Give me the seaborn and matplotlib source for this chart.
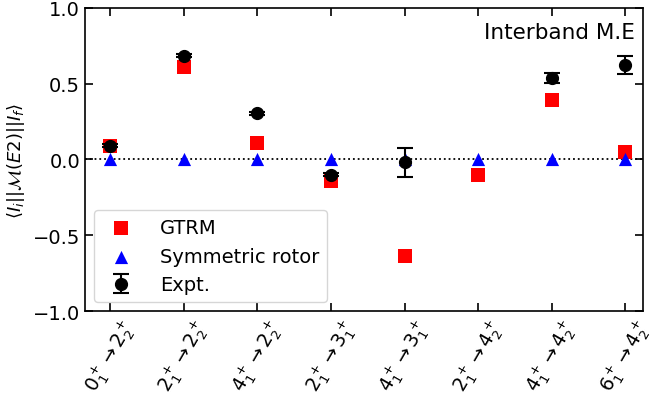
import matplotlib
matplotlib.use("Agg")
import matplotlib.pyplot as plt
import seaborn as sns
import numpy as np
import pandas as pd

labels = [r"$0^+_1\rightarrow2^+_2$", r"$2^+_1\rightarrow2^+_2$", r"$4^+_1\rightarrow2^+_2$",
          r"$2^+_1\rightarrow3^+_1$", r"$4^+_1\rightarrow3^+_1$", r"$2^+_1\rightarrow4^+_2$",
          r"$4^+_1\rightarrow4^+_2$", r"$6^+_1\rightarrow4^+_2$"]
gtrm = [0.09, 0.608, 0.109, -0.14, -0.639, -0.10, 0.395, 0.052]
rotor = [0.0, 0.0, 0.0, 0.0, 0.0, 0.0, 0.0, 0.0]
expt_idx = [0, 1, 2, 3, 4, 6, 7]
expt = [0.089, 0.683, 0.305, -0.10, -0.019, 0.535, 0.624]
expt_err = [0.01, 0.01, 0.01, 0.01, 0.095, 0.033, 0.06]

sns.set_style("ticks")
plt.rcParams['font.family'] = ['DejaVu Sans']
plt.rcParams['mathtext.fontset'] = 'dejavusans'
for k in ['text.color', 'axes.labelcolor', 'xtick.color', 'ytick.color', 'axes.edgecolor']:
    plt.rcParams[k] = 'black'

fig = plt.figure(figsize=(6.49, 4.06), dpi=100)
ax = fig.add_axes([0.131, 0.2315, 0.86, 0.7465])

x = np.arange(len(labels))
df_g = pd.DataFrame({"x": x, "y": gtrm})
df_r = pd.DataFrame({"x": x, "y": rotor})

ax.axhline(0, color='black', ls=':', lw=1.3, zorder=1)
sns.scatterplot(data=df_g, x="x", y="y", marker='s', s=110, color='red', linewidth=0,
                ax=ax, label='GTRM', zorder=3)
sns.scatterplot(data=df_r, x="x", y="y", marker='^', s=90, color='blue', linewidth=0,
                ax=ax, label='Symmetric rotor', zorder=4)
ax.errorbar(expt_idx, expt, yerr=expt_err, fmt='o', color='black', ms=8.5,
            capsize=6, elinewidth=1.5, capthick=1.5, label='Expt.', zorder=5)

ax.set_xlim(-0.34, 7.24)
ax.set_ylim(-1.0, 1.0)
ax.set_yticks([-1.0, -0.5, 0.0, 0.5, 1.0])
ax.set_xticks(x)
ax.set_xticklabels(labels, rotation=60, fontsize=13.5)
ax.tick_params(axis='y', labelsize=14)
ax.tick_params(direction='in', top=True, right=True, length=6, width=1.2, colors='black')
ax.set_xlabel("")
ax.set_ylabel(r"$\langle I_i||\mathcal{M}(E2)||I_f\rangle$", fontsize=13, color='black')
for s in ax.spines.values():
    s.set_linewidth(1.2)
    s.set_color('black')

ax.text(0.985, 0.92, "Interband M.E", transform=ax.transAxes, ha='right', va='center',
        fontsize=15.5, color='black')
leg = ax.legend(loc='lower left', fontsize=14, handletextpad=1.0, borderaxespad=0.45)
for t in leg.get_texts():
    t.set_color('black')

fig.savefig("out.png", dpi=100)
